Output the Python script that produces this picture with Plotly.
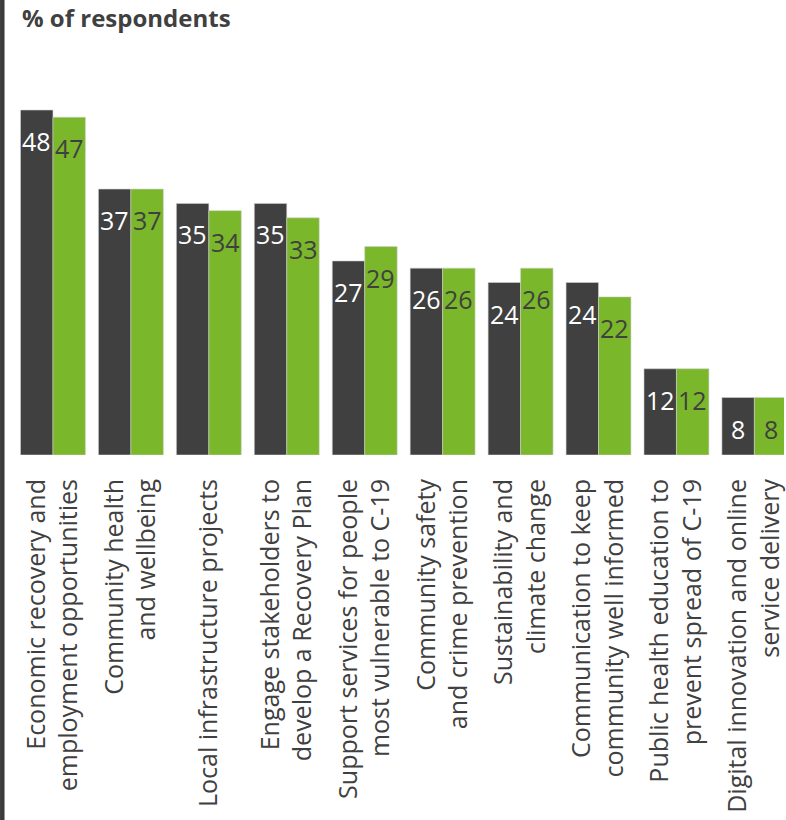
import plotly.graph_objects as go

categories = [
    "Economic recovery and<br>employment opportunities",
    "Community health<br>and wellbeing",
    "Local infrastructure projects",
    "Engage stakeholders to<br>develop a Recovery Plan",
    "Support services for people<br>most vulnerable to C-19",
    "Community safety<br>and crime prevention",
    "Sustainability and<br>climate change",
    "Communication to keep<br>community well informed",
    "Public health education to<br>prevent spread of C-19",
    "Digital innovation and online<br>service delivery",
]
series_a = [48, 37, 35, 35, 27, 26, 24, 24, 12, 8]
series_b = [47, 37, 34, 33, 29, 26, 26, 22, 12, 8]

DARK = "#404040"
GREEN = "#7ab72a"
FONT = "Open Sans"

W, H = 786, 820
ML, MR, MT, MB = 14, 0, 60, 365
XR = [-0.5, 9.38]
pw = W - ML - MR
ph = H - MT - MB
period = pw / (XR[1] - XR[0])
bargap = 0.167
half_bar = period * (1 - bargap) / 4

fig = go.Figure()
fig.add_trace(go.Bar(
    x=categories, y=series_a, name="A",
    marker=dict(color=DARK, line=dict(color="#d0d0d0", width=0.6)),
))
fig.add_trace(go.Bar(
    x=categories, y=series_b, name="B",
    marker=dict(color=GREEN, line=dict(color="#d0d0d0", width=0.6)),
))

annotations = []
for cat, va, vb in zip(categories, series_a, series_b):
    annotations.append(dict(x=cat, y=va, xref="x", yref="y", text=str(va),
                            showarrow=False, xshift=-half_bar, yshift=-31,
                            xanchor="center", yanchor="middle",
                            font=dict(family=FONT, size=25, color="white")))
    annotations.append(dict(x=cat, y=vb, xref="x", yref="y", text=str(vb),
                            showarrow=False, xshift=half_bar, yshift=-31,
                            xanchor="center", yanchor="middle",
                            font=dict(family=FONT, size=25, color=DARK)))

annotations.append(dict(text="<b>% of respondents</b>", xref="paper", yref="paper",
                        x=(20 - ML) / pw, y=1 + (MT - 17) / ph,
                        xanchor="left", yanchor="middle", showarrow=False,
                        font=dict(family=FONT, size=24, color=DARK)))

fig.update_layout(
    width=W, height=H,
    margin=dict(l=ML, r=MR, t=MT, b=MB),
    paper_bgcolor="white", plot_bgcolor="white",
    barmode="group", bargap=bargap, bargroupgap=0,
    showlegend=False,
    font=dict(family=FONT, color=DARK),
    xaxis=dict(tickangle=-90, tickfont=dict(family=FONT, size=25, color=DARK),
               showgrid=False, showline=False, ticks="", range=XR,
               ticklabelstandoff=18),
    yaxis=dict(visible=False, range=[0, 54.96], showgrid=False),
    annotations=annotations,
    shapes=[dict(type="rect", xref="paper", yref="paper",
                 x0=-ML / pw, x1=(4.5 - ML) / pw,
                 y0=-MB / ph, y1=1 + MT / ph,
                 fillcolor="#3a3a3a", line=dict(width=0), layer="above")],
)

fig.write_html("out.html", config={"displayModeBar": False},
               post_script="document.body.style.margin='0';")
